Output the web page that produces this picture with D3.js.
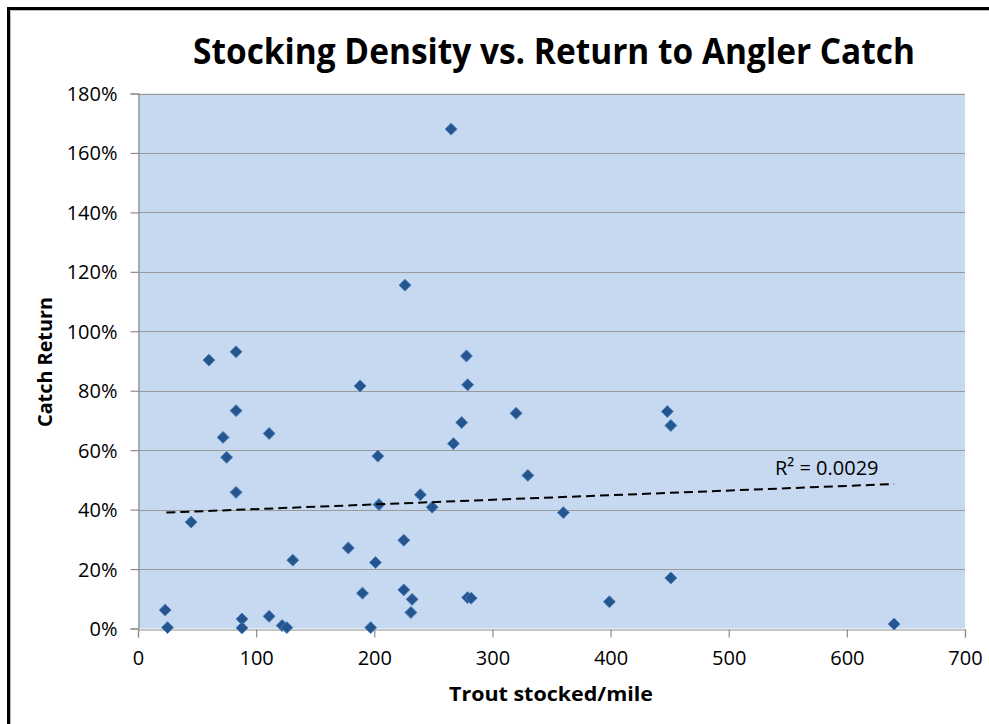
<!DOCTYPE html>
<html>
<head>
<meta charset="utf-8">
<script src="https://cdn.jsdelivr.net/npm/d3@7"></script>
<style>
  body { margin: 0; background: #fff; }
</style>
</head>
<body>
<div id="chart"></div>
<script>
// trout stocked per mile
var stocked = [
  60, 83, 188, 83, 72, 111, 75, 203, 83, 239,
  204, 45, 178, 225, 131, 201, 190, 225, 232, 231,
  23, 25, 88, 88, 111, 122, 126, 197, 278, 279,
  320, 274, 267, 330, 249, 360, 279, 282, 399, 265,
  226, 448, 451, 451, 640
];
// catch return (fraction)
var catchReturn = [
  0.903, 0.931, 0.816, 0.733, 0.643, 0.656, 0.576, 0.580, 0.458, 0.450,
  0.417, 0.358, 0.271, 0.297, 0.230, 0.222, 0.119, 0.130, 0.098, 0.054,
  0.062, 0.003, 0.032, 0.002, 0.041, 0.010, 0.003, 0.003, 0.917, 0.820,
  0.724, 0.693, 0.622, 0.515, 0.408, 0.390, 0.104, 0.102, 0.090, 1.680,
  1.155, 0.730, 0.683, 0.170, 0.015
];
var xTicks = [0, 100, 200, 300, 400, 500, 600, 700];
var yTicks = [0, 0.2, 0.4, 0.6, 0.8, 1.0, 1.2, 1.4, 1.6, 1.8];
// linear trendline as drawn (ends)
var trendX = [24, 640];
var trendY = [0.39, 0.486];
var rSquared = 'R² = 0.0029';

var W = 989, H = 724;
var margin = {left: 138, top: 93.5, right: 24, bottom: 95.5};
var font = '"Open Sans", "Noto Sans", sans-serif';

var svg = d3.select('#chart')
            .append('svg')
            .attr('width', W)
            .attr('height', H);

// chart frame
svg.append('rect')
   .attr('x', 8.5).attr('y', 8.5)
   .attr('width', W + 20).attr('height', H + 20)
   .style('fill', 'none')
   .style('stroke', '#000')
   .style('stroke-width', 3);
svg.append('rect')
   .attr('x', 10.5).attr('y', 10.5)
   .attr('width', W + 20).attr('height', H + 20)
   .style('fill', 'none')
   .style('stroke', '#bbb')
   .style('stroke-width', 1);

var x = d3.scaleLinear().domain([0, 700]).range([margin.left, W - margin.right]);
var y = d3.scaleLinear().domain([0, 1.8]).range([H - margin.bottom, margin.top]);

// plot area
svg.append('rect')
   .attr('x', x(0)).attr('y', y(1.8))
   .attr('width', x(700) - x(0)).attr('height', y(0) - y(1.8))
   .style('fill', '#c6d9f0');

// gridlines
svg.append('g')
   .selectAll('line')
   .data(yTicks.slice(1))
   .enter().append('line')
   .attr('x1', x(0)).attr('x2', x(700))
   .attr('y1', function(d){ return Math.round(y(d)) + 0.5; })
   .attr('y2', function(d){ return Math.round(y(d)) + 0.5; })
   .style('stroke', '#9a9a9a')
   .style('stroke-width', 1.2);

// axes
var xAxis = d3.axisBottom(x).tickValues(xTicks).tickSize(8).tickPadding(13);
var yAxis = d3.axisLeft(y).tickValues(yTicks).tickSize(8).tickPadding(13)
              .tickFormat(d3.format('.0%'));

var gx = svg.append('g')
   .attr('transform', 'translate(0,' + (Math.round(y(0)) + 0.5) + ')')
   .call(xAxis);
var gy = svg.append('g')
   .attr('transform', 'translate(' + (Math.round(x(0)) + 0.5) + ',0)')
   .call(yAxis);

[gx, gy].forEach(function(g){
  g.selectAll('path, line').style('stroke', '#8c8c8c').style('stroke-width', 1.2);
  g.selectAll('text')
   .style('font-family', font)
   .style('font-size', '20px')
   .style('fill', '#000');
});
gy.selectAll('text').attr('dy', '0.35em');

// points
var pts = stocked.map(function(s, i){ return {x: s, y: catchReturn[i]}; });
var diamond = d3.symbol().type(d3.symbolDiamond2).size(90);
svg.append('g')
   .selectAll('path')
   .data(pts)
   .enter().append('path')
   .attr('d', diamond)
   .attr('transform', function(d){ return 'translate(' + x(d.x) + ',' + y(d.y) + ')'; })
   .style('fill', '#24558f')
   .style('stroke', '#4a7cb8')
   .style('stroke-width', 1);

// trendline
svg.append('line')
   .attr('x1', x(trendX[0])).attr('y1', y(trendY[0]))
   .attr('x2', x(trendX[1])).attr('y2', y(trendY[1]))
   .style('stroke', '#000')
   .style('stroke-width', 2)
   .style('stroke-dasharray', '9,5');

svg.append('text')
   .attr('x', 775).attr('y', 475)
   .text(rSquared)
   .style('font-family', font)
   .style('font-size', '20px');

// titles
svg.append('text')
   .attr('x', 554).attr('y', 64)
   .attr('text-anchor', 'middle')
   .attr('textLength', 722)
   .attr('lengthAdjust', 'spacingAndGlyphs')
   .text('Stocking Density vs. Return to Angler Catch')
   .style('font-family', font)
   .style('font-weight', 'bold')
   .style('font-size', '36px');

svg.append('text')
   .attr('x', 551).attr('y', 701)
   .attr('text-anchor', 'middle')
   .attr('textLength', 204)
   .attr('lengthAdjust', 'spacingAndGlyphs')
   .text('Trout stocked/mile')
   .style('font-family', font)
   .style('font-weight', 'bold')
   .style('font-size', '20px');

svg.append('text')
   .attr('transform', 'translate(52,362) rotate(-90)')
   .attr('text-anchor', 'middle')
   .attr('textLength', 130)
   .attr('lengthAdjust', 'spacingAndGlyphs')
   .text('Catch Return')
   .style('font-family', font)
   .style('font-weight', 'bold')
   .style('font-size', '20px');
</script>
</body>
</html>
